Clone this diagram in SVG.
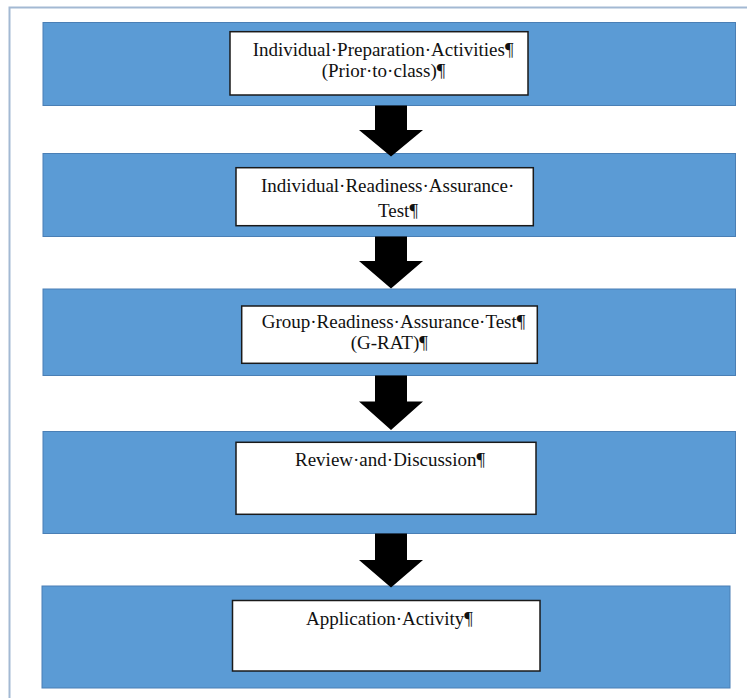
<svg xmlns="http://www.w3.org/2000/svg" width="747" height="698" viewBox="0 0 747 698">
<style>
.band{fill:#5b9bd5;stroke:#4a7fb5;stroke-width:1}
.box{fill:#ffffff;stroke:#1a1a1a;stroke-width:1.5}
.t{font-family:"Liberation Serif","Times New Roman",serif;font-size:19px;fill:#111111}
.arrow{fill:#000000}
.frame{fill:none;stroke:#a3b9d3;stroke-width:2}
</style>
<rect width="747" height="698" fill="#ffffff"/>
<path class="frame" d="M9.5,698 V7.5 H747"/>
<g id="node1">
<rect class="band" x="43" y="22.5" width="692.5" height="83"/>
<rect class="box" x="230" y="31.7" width="298" height="63.3"/>
<text class="t" x="252.7" y="55.7">Individual·Preparation·Activities¶</text>
<text class="t" x="321.7" y="77">(Prior·to·class)¶</text>
</g>
<g id="node2">
<rect class="band" x="43" y="153.5" width="692.5" height="83"/>
<rect class="box" x="236" y="167.7" width="297.3" height="58"/>
<text class="t" x="261" y="191.5">Individual·Readiness·Assurance·</text>
<text class="t" x="378" y="216.5">Test¶</text>
</g>
<g id="node3">
<rect class="band" x="43" y="289" width="692.5" height="86.5"/>
<rect class="box" x="241.7" y="306" width="295.6" height="57.3"/>
<text class="t" x="261.7" y="328.3">Group·Readiness·Assurance·Test¶</text>
<text class="t" x="350.7" y="349">(G-RAT)¶</text>
</g>
<g id="node4">
<rect class="band" x="43" y="431.5" width="692.5" height="102"/>
<rect class="box" x="236" y="442.3" width="300" height="72"/>
<text class="t" x="295" y="466">Review·and·Discussion¶</text>
</g>
<g id="node5">
<rect class="band" x="42" y="586" width="688" height="102"/>
<rect class="box" x="232.5" y="600.5" width="307.5" height="70.5"/>
<text class="t" x="306" y="624.5">Application·Activity¶</text>
</g>
<g id="connectors">
<polygon class="arrow" points="375,105.5 407,105.5 407,130 423,130 391,156.5 359,130 375,130"/>
<polygon class="arrow" points="375,236.5 407,236.5 407,261 423,261 391,288.5 359,261 375,261"/>
<polygon class="arrow" points="375,375.5 407,375.5 407,401.5 423,401.5 391,430 359,401.5 375,401.5"/>
<polygon class="arrow" points="375,533.5 407,533.5 407,560 423,560 391,587.5 359,560 375,560"/>
</g>
</svg>
